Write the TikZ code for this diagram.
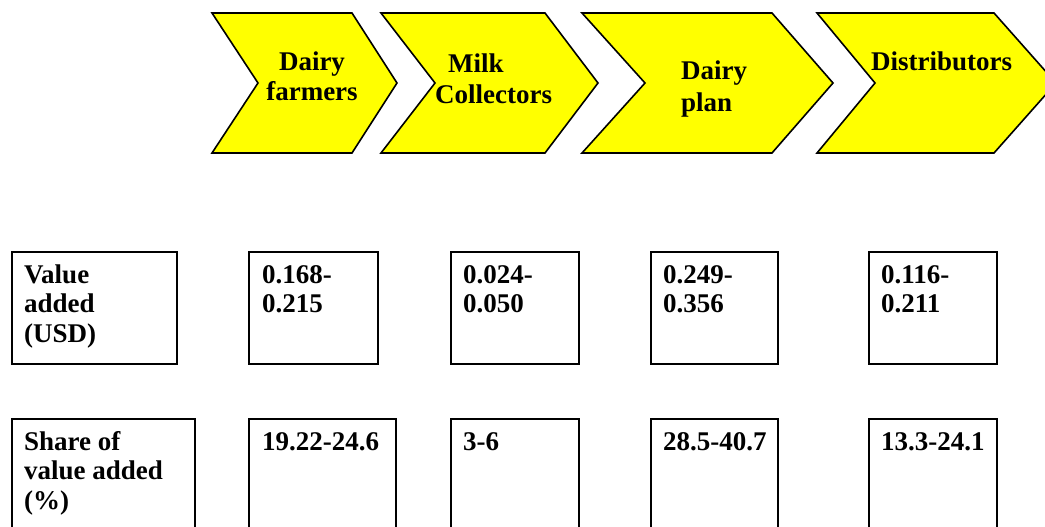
\documentclass[tikz,border=0pt]{standalone}
\usepackage{fontspec}
\setmainfont{Liberation Serif}
\definecolor{chevyellow}{RGB}{255,255,0}
\begin{document}
\begin{tikzpicture}[x=1pt,y=-1pt,
  chev/.style={fill=chevyellow,draw=black,line width=1.6pt,line join=miter},
  box/.style={draw=black,line width=1.6pt,anchor=north west,inner sep=0pt},
  ctext/.style={inner sep=0pt,font=\fontsize{27}{31}\selectfont\bfseries},
  btext/.style={inner sep=0pt,anchor=base west,align=left,font=\fontsize{27}{29.5}\selectfont\bfseries}]
\useasboundingbox (0,0) rectangle (1045,527);
% chevrons
\draw[chev] (212,13) -- (352,13) -- (397,83) -- (352,153) -- (212,153) -- (258,83) -- cycle;
\draw[chev] (381,13) -- (545,13) -- (598,83) -- (545,153) -- (381,153) -- (435,83) -- cycle;
\draw[chev] (582,13) -- (772,13) -- (833,83) -- (772,153) -- (582,153) -- (645,83) -- cycle;
\draw[chev] (817,13) -- (994,13) -- (1056,83) -- (994,153) -- (817,153) -- (875,83) -- cycle;
% multi-line nodes are anchored at the baseline of their last line
\node[ctext,anchor=base,align=center] (c1) at (312,101) {Dairy\\farmers};
\node[ctext,anchor=base west,align=left] (c2) at (435,103) {\hspace*{13pt}Milk\\Collectors};
\node[ctext,anchor=base west,align=left,font=\fontsize{27}{32}\selectfont\bfseries] (c3) at (681,111) {Dairy\\plan};
\node[ctext,anchor=base west] (c4) at (871,71) {Distributors};
% row 1 boxes
\node[box,minimum width=165pt,minimum height=112pt] (r1a) at (11,251) {};
\node[box,minimum width=129pt,minimum height=112pt] (r1b) at (248,251) {};
\node[box,minimum width=128pt,minimum height=112pt] (r1c) at (450,251) {};
\node[box,minimum width=127pt,minimum height=112pt] (r1d) at (650,251) {};
\node[box,minimum width=128pt,minimum height=112pt] (r1e) at (868,251) {};
\node[btext] (t1a) at (24,342) {Value\\added\\(USD)};
\node[btext] (t1b) at (262,312.5) {0.168-\\0.215};
\node[btext] (t1c) at (463,312.5) {0.024-\\0.050};
\node[btext] (t1d) at (663,312.5) {0.249-\\0.356};
\node[btext] (t1e) at (881,312.5) {0.116-\\0.211};
% row 2 boxes
\node[box,minimum width=183pt,minimum height=130pt] (r2a) at (11,418) {};
\node[box,minimum width=147pt,minimum height=130pt] (r2b) at (248,418) {};
\node[box,minimum width=128pt,minimum height=130pt] (r2c) at (450,418) {};
\node[box,minimum width=127pt,minimum height=130pt] (r2d) at (650,418) {};
\node[box,minimum width=128pt,minimum height=130pt] (r2e) at (868,418) {};
\node[btext] (t2a) at (24,509) {Share of\\value added\\(\%)};
\node[btext] (t2b) at (262,450) {19.22-24.6};
\node[btext] (t2c) at (463,450) {3-6};
\node[btext] (t2d) at (663,450) {28.5-40.7};
\node[btext] (t2e) at (881,450) {13.3-24.1};
\end{tikzpicture}
\end{document}
